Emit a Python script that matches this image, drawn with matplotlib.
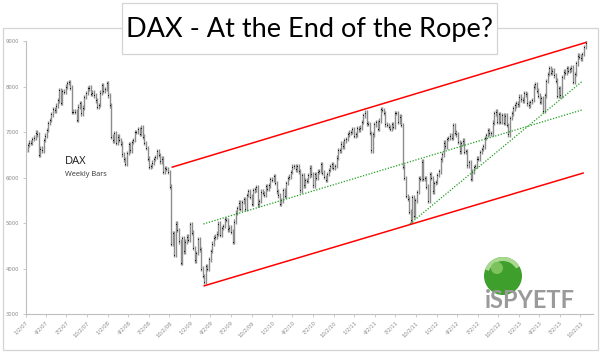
import numpy as np
import pandas as pd
import matplotlib
matplotlib.use('Agg')
import matplotlib.pyplot as plt
from matplotlib.patches import Rectangle, Circle, Wedge
from matplotlib.ticker import FuncFormatter

# weekly DAX closes (Fridays)
close_2007 = [6620, 6720, 6770, 6760, 6850, 6880, 6990, 6950, 6500, 6640, 6600, 6830, 6920,
              7050, 7200, 7270, 7390, 7500, 7480, 7580, 7700, 7920, 7640, 7900, 7880, 8000,
              8080, 8100, 7980, 7450, 7440, 7450, 7270, 7560, 7640, 7410, 7540, 7770, 7860,
              7960, 7980, 7840, 7870, 7810, 7700, 7560, 7600, 7870, 8030, 7900, 7950, 8070]
close_2008 = [7810, 7590, 6900, 6820, 6970, 6770, 6900, 6830, 6750, 6510, 6400, 6300, 6540,
              6740, 6600, 6780, 6830, 7000, 7000, 7060, 6960, 7100, 6900, 6760, 6650, 6420,
              6230, 6260, 6330, 6410, 6450, 6580, 6500, 6360, 6420, 6130, 6210, 6190, 6120,
              5800, 4550, 4780, 4300, 4990, 4850, 4600, 4130, 4670, 4380, 4590, 4700, 4630]
close_2009 = [4980, 4790, 4450, 4180, 4340, 4650, 4420, 4000, 3840, 3700, 4050, 3990, 4200,
              4390, 4550, 4680, 4700, 4770, 4990, 4740, 4890, 4940, 5080, 5070, 4860, 4900,
              4810, 4580, 5030, 5230, 5330, 5450, 5310, 5460, 5530, 5320, 5620, 5700, 5580,
              5420, 5720, 5740, 5790, 5410, 5490, 5690, 5660, 5620, 5820, 5760, 5830, 5960]
close_2010 = [5957, 6040, 5880, 5700, 5610, 5430, 5500, 5720, 5600, 5880, 5990, 6020, 6120,
              6240, 6250, 6180, 6260, 6140, 5720, 6060, 5830, 5950, 5930, 6050, 6220, 6070,
              5830, 6070, 5990, 6130, 6150, 6290, 6110, 6010, 5950, 6080, 6170, 6250, 6300,
              6210, 6260, 6440, 6600, 6600, 6750, 6690, 6820, 6850, 6950, 6990, 7000, 7060, 6910]
close_2011 = [6950, 7080, 7060, 7100, 7220, 7370, 7430, 7190, 7180, 6980, 6600, 6950, 7170,
              7220, 7070, 7250, 7510, 7490, 7420, 7170, 7160, 7110, 7070, 7170, 7120, 7420,
              7420, 7220, 7340, 7160, 6240, 5990, 5600, 5540, 5250, 5060, 5570, 5160, 5500,
              5680, 5990, 5970, 6350, 5970, 5990, 5800, 5490, 6080, 5990, 5700, 5880, 5900]
close_2012 = [6060, 6140, 6400, 6510, 6770, 6690, 6850, 6870, 6920, 6880, 7160, 6990, 6950,
              6780, 6580, 6760, 6810, 6560, 6580, 6270, 6340, 5980, 6130, 6230, 6260, 6420,
              6410, 6560, 6630, 6690, 6870, 6940, 7040, 6970, 6970, 7210, 7410, 7450, 7220,
              7400, 7230, 7380, 7200, 7360, 7160, 6950, 7310, 7410, 7520, 7590, 7640, 7610]
close_2013 = [7780, 7720, 7700, 7860, 7830, 7630, 7590, 7660, 7710, 8000, 8060, 7910, 7800,
              7660, 7740, 7460, 7810, 8120, 8280, 8400, 8310, 8350, 8250, 8130, 7790, 7960,
              7810, 8210, 8330, 8300, 8400, 8340, 8380, 8420, 8100, 8280, 8510, 8680, 8660,
              8620, 8720, 8870, 8970]

# trend lines drawn on the chart (start, end)
red_upper_dates = ['2008-10-15', '2013-10-25']
red_upper_vals = [6230, 8970]
red_lower_dates = ['2009-03-06', '2013-10-14']
red_lower_vals = [3620, 6100]
green_flat_dates = ['2009-03-02', '2013-10-10']
green_flat_vals = [4980, 7490]
green_steep_dates = ['2011-09-06', '2013-10-12']
green_steep_vals = [4985, 8125]

closes = np.array(close_2007 + close_2008 + close_2009 + close_2010 +
                  close_2011 + close_2012 + close_2013, dtype=float)
weeks = pd.date_range('2007-01-05', periods=len(closes), freq='W-FRI')
prev = np.concatenate([[closes[0]], closes[:-1]])
pad = 50
lows = np.minimum(prev, closes) - pad
highs = np.maximum(prev, closes) + pad

W, H = 600, 353
fig = plt.figure(figsize=(W / 100, H / 100), dpi=100)
fig.patch.set_facecolor('white')

# frame + title box drawn in pixel space
bg = fig.add_axes([0, 0, 1, 1])
bg.set_xlim(0, W)
bg.set_ylim(H, 0)
bg.axis('off')
bg.add_patch(Rectangle((2.5, 28), 595, 322, fill=False, ec='#d4d4d4', lw=0.9))

ax = fig.add_axes([25.5 / W, 1 - 314 / H, (593 - 25.5) / W, (314 - 41.2) / H])
ax.set_facecolor('none')
ax.vlines(weeks, lows, highs, color='#8c8c8c', lw=1.0)
ax.plot(weeks, closes, ls='none', marker='s', ms=0.55, mew=0, color='#000000')

ax.plot(pd.to_datetime(red_upper_dates), red_upper_vals, color='#ff0000', lw=1.1)
ax.plot(pd.to_datetime(red_lower_dates), red_lower_vals, color='#ff0000', lw=1.1)
ax.plot(pd.to_datetime(green_flat_dates), green_flat_vals, color='#1e9e1e', lw=0.9, ls=(0, (1, 1.3)))
ax.plot(pd.to_datetime(green_steep_dates), green_steep_vals, color='#1e9e1e', lw=0.9, ls=(0, (1, 1.3)))

ax.set_ylim(3000, 9000)
ax.set_yticks(range(3000, 9001, 1000))
ax.set_xlim(pd.Timestamp('2007-01-02'), pd.Timestamp('2013-11-27'))
qticks = pd.date_range('2007-01-01', '2013-10-01', freq='QS') + pd.Timedelta(days=1)
ax.set_xticks(qticks)
ax.xaxis.set_major_formatter(FuncFormatter(
    lambda v, p: (lambda d: f"{d.month}/{d.day}/{d.year % 100:02d}")(
        pd.Timestamp(matplotlib.dates.num2date(v)).tz_localize(None))))

for s in ['top', 'right']:
    ax.spines[s].set_visible(False)
for s in ['left', 'bottom']:
    ax.spines[s].set_color('#bfbfbf')
    ax.spines[s].set_linewidth(0.8)
ax.tick_params(axis='both', colors='#bfbfbf', length=2.5, width=0.6, labelsize=3.8,
               labelcolor='#8a8a8a', pad=2)
for lab in ax.get_xticklabels():
    lab.set_rotation(45)
    lab.set_ha('right')
    lab.set_rotation_mode('anchor')

ax.text(0.069, 0.54, 'DAX', transform=ax.transAxes, fontsize=8, family='Open Sans',
        color='#1a1a1a', va='bottom')
ax.text(0.069, 0.50, 'Weekly Bars', transform=ax.transAxes, fontsize=5.3, family='Open Sans',
        color='#333333', va='bottom')

# title box
bg.add_patch(Rectangle((122, 2.5), 375, 51, fc='white', ec='#d4d4d4', lw=0.9, zorder=5))
bg.text(309.5, 29, 'DAX - At the End of the Rope?', ha='center', va='center',
        fontsize=19.5, family='Lato', color='black', zorder=6)

# logo
bg.add_patch(Circle((503, 276), 19, fc='#3f9f2c', ec='none', zorder=3))
bg.add_patch(Wedge((503, 276), 19, 200, 330, width=4, fc='#a9d98f', ec='none', zorder=3))
bg.add_patch(Circle((497, 268), 6, fc='#7cc35e', ec='none', zorder=3))
bg.text(530, 300, 'iSPYETF', ha='center', va='center', fontsize=17, family='Lato',
        fontweight='bold', color='#9a9a9a', zorder=4)

fig.savefig('out.png', dpi=100, facecolor='white')
